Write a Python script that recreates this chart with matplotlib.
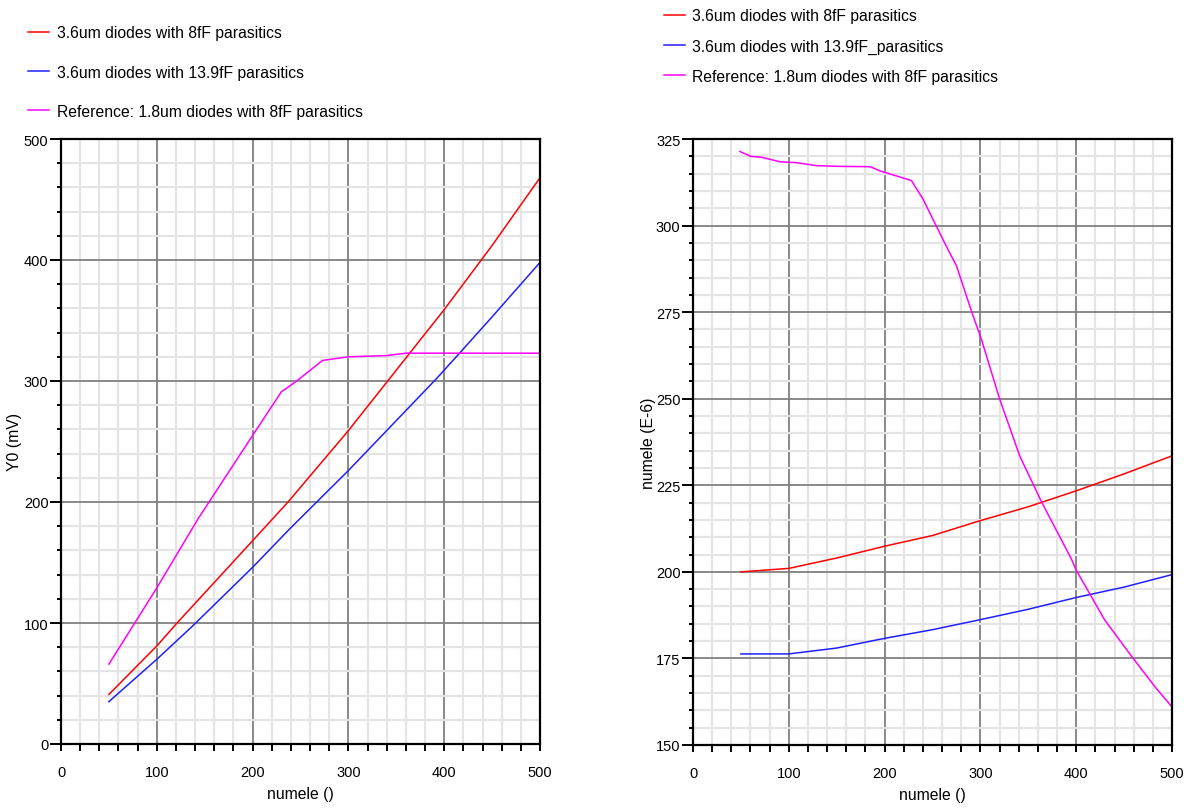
import matplotlib
matplotlib.use("Agg")
import matplotlib.pyplot as plt
from matplotlib.ticker import MultipleLocator

plt.rcParams['font.family'] = ['Liberation Sans', 'DejaVu Sans']
plt.rcParams['font.size'] = 11.3

# left panel: Y0 (mV) vs numele
x_red_l = [50, 100, 120, 200, 237, 300, 341, 400, 450, 500]
y_red_l = [41, 81, 99, 168, 200, 259, 300, 359, 412, 468]
x_blue_l = [50, 100, 138, 200, 239, 300, 392, 416, 450, 500]
y_blue_l = [35, 70, 98, 146, 178, 226, 302, 323, 353, 398]
x_mag_l = [50, 100, 143, 200, 230, 246, 273, 300, 340, 360, 500]
y_mag_l = [66, 129, 186, 255, 291, 300, 317, 320, 321, 323, 323]

# right panel: numele (E-6) vs numele
x_red_r = [50, 100, 150, 200, 250, 300, 350, 400, 450, 500]
y_red_r = [200, 201, 204, 207.4, 210.5, 214.8, 218.8, 223.4, 228.3, 233.5]
x_blue_r = [50, 100, 150, 200, 250, 300, 350, 400, 450, 500]
y_blue_r = [176.3, 176.3, 178, 180.8, 183.3, 186.2, 189.2, 192.6, 195.6, 199.2]
x_mag_r = [49, 60, 72, 91, 107, 129, 153, 185, 195, 228, 240, 253, 265, 275, 291,
           301, 320, 341, 364, 395, 400, 430, 460, 484, 500]
y_mag_r = [321.4, 320, 319.7, 318.4, 318.2, 317.3, 317.1, 317, 315.8, 313, 307.7, 300.4,
           293.7, 288.4, 275, 267.2, 250, 233.5, 220.1, 203.7, 200.5, 186, 174.8, 166.2, 161]

labels_l = ['3.6um diodes with 8fF parasitics',
            '3.6um diodes with 13.9fF parasitics',
            'Reference: 1.8um diodes with 8fF parasitics']
labels_r = ['3.6um diodes with 8fF parasitics',
            '3.6um diodes with 13.9fF_parasitics',
            'Reference: 1.8um diodes with 8fF parasitics']
colors = ['#ff0000', '#2020ff', '#ff00ff']

fig = plt.figure(figsize=(11.95, 8.12), dpi=100)
ax1 = fig.add_axes([61 / 1195, 67 / 812, 479 / 1195, 605 / 812])
ax2 = fig.add_axes([693 / 1195, 66 / 812, 479 / 1195, 606 / 812])


def style(ax, ymaj, ymin):
    ax.set_xlim(0, 500)
    ax.xaxis.set_major_locator(MultipleLocator(100))
    ax.xaxis.set_minor_locator(MultipleLocator(20))
    ax.yaxis.set_major_locator(MultipleLocator(ymaj))
    ax.yaxis.set_minor_locator(MultipleLocator(ymin))
    ax.grid(which='minor', color='#e4e4e4', linewidth=1.6, zorder=0)
    ax.grid(which='major', color='#808080', linewidth=1.3, zorder=0)
    ax.set_axisbelow(True)
    for s in ax.spines.values():
        s.set_linewidth(1.6)
        s.set_color('black')
    ax.tick_params(axis='y', which='major', direction='out', length=8, width=1.4, pad=1, labelsize=10.5)
    ax.tick_params(axis='y', which='minor', direction='out', length=3, width=1.4)
    ax.tick_params(axis='x', which='both', direction='out', length=5, width=1.4, pad=10, labelsize=10.5)
    ax.set_xlabel('numele ()', labelpad=5)


ln1, = ax1.plot(x_red_l, y_red_l, color=colors[0], lw=1.1)
ln2, = ax1.plot(x_blue_l, y_blue_l, color=colors[1], lw=1.1)
ln3, = ax1.plot(x_mag_l, y_mag_l, color=colors[2], lw=1.1)
ax1.set_ylim(0, 500)
style(ax1, 100, 20)
ax1.set_ylabel('Y0 (mV)', labelpad=1)

rn1, = ax2.plot(x_red_r, y_red_r, color=colors[0], lw=1.1)
rn2, = ax2.plot(x_blue_r, y_blue_r, color=colors[1], lw=1.1)
rn3, = ax2.plot(x_mag_r, y_mag_r, color=colors[2], lw=1.1)
ax2.set_ylim(150, 325)
style(ax2, 25, 5)
ax2.set_ylabel('numele (E-6)', labelpad=0)

fig.legend([ln1, ln2, ln3], labels_l, loc='upper left', bbox_to_anchor=(22 / 1195, 1 - 20 / 812),
           frameon=False, handlelength=1.3, handletextpad=0.5, labelspacing=1.55, borderaxespad=0)
fig.legend([rn1, rn2, rn3], labels_r, loc='upper left', bbox_to_anchor=(658 / 1195, 1 - 3 / 812),
           frameon=False, handlelength=1.3, handletextpad=0.45, labelspacing=0.97, borderaxespad=0)

fig.savefig('out.png', dpi=100)
